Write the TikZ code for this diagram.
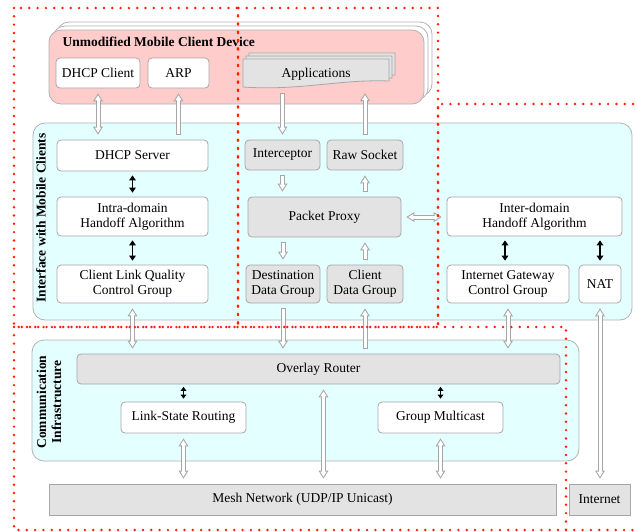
\documentclass[tikz,border=0pt]{standalone}
\usepackage{fontspec}
\setmainfont{Liberation Serif}
\usetikzlibrary{arrows.meta}
\definecolor{devpink}{RGB}{255,204,204}
\definecolor{ifcyan}{RGB}{228,255,255}
\definecolor{zonered}{RGB}{255,30,0}

\begin{document}
\begin{tikzpicture}[x=1pt,y=-1pt,font=\fontsize{13.5}{15}\selectfont,
  cont/.style={draw=gray!60, line width=0.8pt, rounded corners=12pt},
  box/.style={draw=gray!70, line width=0.8pt, rounded corners=4pt, fill=white, align=center, inner sep=0pt},
  gbox/.style={box, fill=gray!22},
  sqbox/.style={gbox, rounded corners=0pt},
  title/.style={font=\fontsize{13.5}{15}\selectfont\bfseries},
  harrow/.style={draw=gray!70, line width=5pt, shorten >=5pt, shorten <=5pt,
    -{Triangle[length=8pt,width=10pt,line width=0pt]},
    postaction={draw=white, line width=3pt, shorten >=6.9pt, shorten <=6pt,
    -{Triangle[length=5.1pt,width=6.4pt,line width=0pt]}}},
  harrows/.style={draw=gray!70, line width=5pt, shorten >=5pt, shorten <=5pt,
    {Triangle[length=8pt,width=10pt,line width=0pt]}-{Triangle[length=8pt,width=10pt,line width=0pt]},
    postaction={draw=white, line width=3pt, shorten >=6.9pt, shorten <=6.9pt,
    {Triangle[length=5.1pt,width=6.4pt,line width=0pt]}-{Triangle[length=5.1pt,width=6.4pt,line width=0pt]}}},
  barrow/.style={line width=1.6pt, shorten >=4pt, shorten <=4pt,
    {Triangle[length=5pt,width=7pt,line width=0pt]}-{Triangle[length=5pt,width=7pt,line width=0pt]}},
  sbarrow/.style={line width=1.4pt, shorten >=2.5pt, shorten <=3pt,
    {Triangle[length=4pt,width=6pt,line width=0pt]}-{Triangle[length=4pt,width=6pt,line width=0pt]}},
  zone/.style={draw=zonered, line width=2.7pt, line cap=round, dash pattern=on 0pt off 8.3pt}]
\useasboundingbox (0,0) rectangle (635,531);

% containers
\draw[cont, fill=ifcyan] (33,123) rectangle (632,320);
\draw[cont, fill=ifcyan] (32,340) rectangle (579,461);
\foreach \d in {8,4}
  \draw[cont, fill=white] (49+\d,30-\d) rectangle (424+\d,104-\d);
\draw[cont, fill=devpink] (49,30) rectangle (424,104);

\node[title, anchor=west] (devlabel) at (59,42) {Unmodified Mobile Client Device};
\node[title, rotate=90] (iflabel) at (41,218) {Interface with Mobile Clients};
\node[title, rotate=90, align=center] (cilabel) at (49,402) {Communication\\Infrastructure};

% mobile client device
\node[box, minimum width=84, minimum height=30] (dhcpc) at (98,73) {DHCP Client};
\node[box, minimum width=61, minimum height=30] (arp) at (178.5,73) {ARP};
\foreach \d in {6,3,0}
  \draw[draw=gray!70, line width=0.8pt, fill=gray!22] (243+\d,59-\d) -- (389+\d,59-\d) -- (389+\d,81-\d)
    .. controls (340+\d,79-\d) and (300+\d,91-\d) .. (243+\d,87-\d) -- cycle;
\node[minimum width=146, minimum height=28, inner sep=0pt] (apps) at (316,74) {Applications};

% interface with mobile clients
\node[box, minimum width=151, minimum height=31] (dhcps) at (132.5,155.5) {DHCP Server};
\node[box, minimum width=151, minimum height=39] (intra) at (132.5,216.5) {Intra-domain\\Handoff Algorithm};
\node[box, minimum width=151, minimum height=38] (clq) at (132.5,284) {Client Link Quality\\Control Group};
\node[gbox, minimum width=75, minimum height=30] (icpt) at (282.5,155) {Interceptor};
\node[gbox, minimum width=76, minimum height=30] (raws) at (365,155) {Raw Socket};
\node[gbox, minimum width=153, minimum height=40] (pproxy) at (324.5,217) {Packet Proxy};
\node[gbox, minimum width=74, minimum height=38] (ddg) at (283,284) {Destination\\Data Group};
\node[gbox, minimum width=76, minimum height=38] (cdg) at (365,284) {Client\\Data Group};
\node[box, minimum width=175, minimum height=39] (inter) at (534.5,216.5) {Inter-domain\\Handoff Algorithm};
\node[box, minimum width=122, minimum height=38] (igw) at (508,284) {Internet Gateway\\Control Group};
\node[box, minimum width=42, minimum height=38] (nat) at (600,284) {NAT};

% communication infrastructure
\node[gbox, minimum width=483, minimum height=30] (overlay) at (318.5,369) {Overlay Router};
\node[box, minimum width=125, minimum height=31] (lsr) at (183.5,417.5) {Link-State Routing};
\node[box, minimum width=125, minimum height=31] (gmc) at (440.5,417.5) {Group Multicast};
\node[sqbox, minimum width=507, minimum height=31] (mesh) at (302.5,499.5) {Mesh Network (UDP/IP Unicast)};
\node[sqbox, minimum width=61, minimum height=31] (inet) at (599.5,499.5) {Internet};

% hollow connectors
\draw[harrows] (dhcpc.south) -- (dhcpc.south |- dhcps.north);
\draw[harrow] (arp.south |- dhcps.north) -- (arp.south);
\draw[harrow] (icpt.north |- apps.south) -- (icpt.north);
\draw[harrow] (raws.north) -- (raws.north |- apps.south);
\draw[harrow] (icpt.south) -- (icpt.south |- pproxy.north);
\draw[harrow] (raws.south |- pproxy.north) -- (raws.south);
\draw[harrows] (pproxy.east) -- (pproxy.east -| inter.west);
\draw[harrow] (ddg.north |- pproxy.south) -- (ddg.north);
\draw[harrow] (cdg.north) -- (cdg.north |- pproxy.south);
\draw[harrows] (clq.south) -- (clq.south |- overlay.north);
\draw[harrow] (ddg.south) -- (ddg.south |- overlay.north);
\draw[harrow] (cdg.south |- overlay.north) -- (cdg.south);
\draw[harrows] (igw.south) -- (igw.south |- overlay.north);
\draw[harrows] (nat.south) -- (nat.south |- inet.north);
\draw[harrows] (lsr.south) -- (lsr.south |- mesh.north);
\draw[harrows] ([xshift=5pt]overlay.south) -- ([xshift=5pt]overlay.south |- mesh.north);
\draw[harrows] (gmc.south) -- (gmc.south |- mesh.north);

% black connectors
\draw[barrow] (dhcps) -- (intra);
\draw[barrow] (intra) -- (clq);
\draw[barrow] ([xshift=-3pt]igw.north) -- ([xshift=-3pt]igw.north |- inter.south);
\draw[barrow] (nat.north) -- (nat.north |- inter.south);
\draw[sbarrow] (lsr.north) -- (lsr.north |- overlay.south);
\draw[sbarrow] (gmc.north) -- (gmc.north |- overlay.south);

% dotted zones
\draw[zone] (14,8) rectangle (238,327);
\draw[zone] (238,8) rectangle (438,327);
\draw[zone] (14,327) rectangle (566,530);
\draw[zone] (633,104) -- (438,104) -- (438,327);
\draw[zone] (566,530) -- (633,530);
\end{tikzpicture}
\end{document}
